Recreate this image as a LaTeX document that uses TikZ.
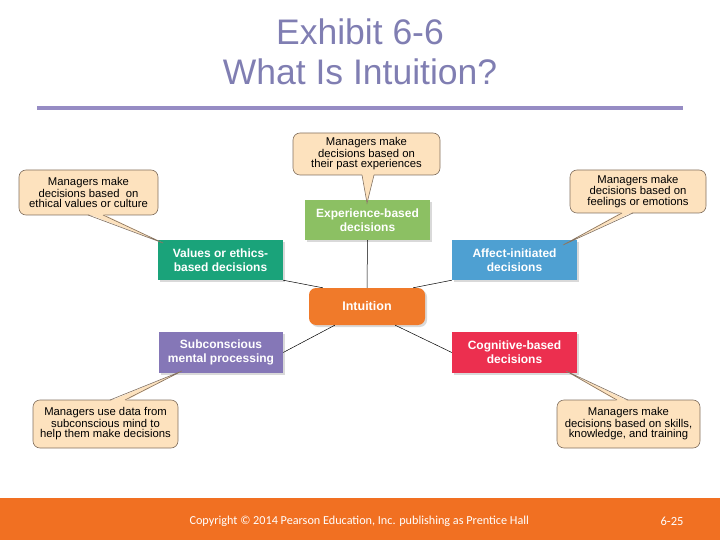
\documentclass[tikz,border=0pt]{standalone}
\usepackage{fontspec}
\setmainfont{Liberation Sans}
\newfontfamily\footfont{Carlito}
\usetikzlibrary{shadows}
\definecolor{titlecol}{RGB}{128,126,178}
\definecolor{rulecol}{RGB}{150,140,196}
\definecolor{calfill}{RGB}{253,226,190}
\definecolor{caldraw}{RGB}{130,112,95}
\definecolor{expgreen}{RGB}{140,192,99}
\definecolor{valteal}{RGB}{26,163,122}
\definecolor{affblue}{RGB}{78,160,210}
\definecolor{intorange}{RGB}{240,122,42}
\definecolor{subpurple}{RGB}{133,119,183}
\definecolor{cogred}{RGB}{236,47,79}
\definecolor{footorange}{RGB}{241,112,34}
\tikzset{
  callout/.style={draw=caldraw, line width=0.6pt, fill=calfill, rounded corners=7pt,
    align=center, font=\fontsize{11.3}{10.5}\selectfont, inner sep=0pt},
  catbox/.style={fill=#1, text=white, align=center, inner sep=0pt,
    font=\fontsize{12}{14}\selectfont\bfseries,
    drop shadow={opacity=0.3, shadow xshift=2pt, shadow yshift=-2pt}},
  link/.style={draw=black, line width=0.5pt},
  ptrfill/.style={fill=calfill},
  ptrline/.style={draw=caldraw, line width=0.6pt},
}
\begin{document}
\begin{tikzpicture}[x=1pt,y=-1pt]
\useasboundingbox (0,0) rectangle (720,540);
% title
\node[text=titlecol, font=\fontsize{35.5}{40}\selectfont, align=center] (title) at (360,52) {Exhibit 6-6\\What Is Intuition?};
\draw[rulecol, line width=3.5pt] (37,108) -- (683,108);

% category boxes
\node[catbox=expgreen, minimum width=125pt, minimum height=40pt] (exp) at (367.5,220) {Experience-based\\decisions};
\node[catbox=valteal, minimum width=125pt, minimum height=40pt] (val) at (220.5,260) {Values or ethics-\\based decisions};
\node[catbox=affblue, minimum width=125pt, minimum height=40pt] (aff) at (514.5,260) {Affect-initiated\\decisions};
\node[catbox=intorange, rounded corners=7pt, minimum width=116pt, minimum height=37pt, font=\fontsize{12.5}{14}\selectfont\bfseries] (int) at (367,306.5) {Intuition};
\node[catbox=subpurple, minimum width=124pt, minimum height=41pt] (sub) at (221,352.5) {Subconscious\\mental processing};
\node[catbox=cogred, minimum width=125pt, minimum height=41pt] (cog) at (514.5,352.5) {Cognitive-based\\decisions};

% connectors
\draw[link] (int.north) -- (exp.south);
\draw[link] (int.north west) ++(14,0) coordinate (iv) -- (val.south east);
\draw[link] (int.north east) ++(-12,0) coordinate (ia) -- (aff.south west);
\draw[link] (int.south west) ++(26,0) coordinate (is) -- (sub.east);
\draw[link] (int.south east) ++(-30,0) coordinate (ic) -- (cog.west);

% callouts
\node[callout, minimum width=147pt, minimum height=42pt] (cexp) at (366.5,154) {Managers make\\decisions based on\\their past experiences};
\node[callout, minimum width=139pt, minimum height=45pt] (cval) at (88.5,192.5) {Managers make\\decisions based\ \ on\\ethical values or culture};
\node[callout, minimum width=136pt, minimum height=43pt] (caff) at (638,191.5) {Managers make\\decisions based on\\feelings or emotions};
\node[callout, minimum width=145pt, minimum height=48pt] (csub) at (105.5,424) {Managers use data from\\subconscious mind to\\help them make decisions};
\node[callout, minimum width=143pt, minimum height=48pt] (ccog) at (628.5,424) {Managers make\\decisions based on skills,\\knowledge, and training};

% pointer tips
\coordinate (texp) at (367,203);
\coordinate (tval) at (163,243);
\coordinate (taff) at (563,245);
\coordinate (tsub) at (182,371);
\coordinate (tcog) at (566,371);

% pointers
\fill[ptrfill] (362,174) -- (texp) -- (374,174) -- cycle;
\draw[ptrline] (362,175) -- (texp) -- (374,175);
\fill[ptrfill] (88,214) -- (tval) -- (103,214) -- cycle;
\draw[ptrline] (88,215) -- (tval) -- (103,215);
\fill[ptrfill] (622,212) -- (taff) -- (633,212) -- cycle;
\draw[ptrline] (622,213) -- (taff) -- (633,213);
\fill[ptrfill] (110,401) -- (tsub) -- (125,401) -- cycle;
\draw[ptrline] (110,400) -- (tsub) -- (125,400);
\fill[ptrfill] (617,401) -- (tcog) -- (628,401) -- cycle;
\draw[ptrline] (617,400) -- (tcog) -- (628,400);

% footer
\fill[footorange] (0,498) rectangle (720,540);
\node[text=white, font=\footfont\fontsize{12.2}{14}\selectfont, anchor=west] (copy) at (186,521) {Copyright \textcopyright{} 2014 Pearson Education, Inc. publishing as Prentice Hall};
\node[text=white, font=\footfont\fontsize{12.5}{14}\selectfont] (page) at (672,521) {6-25};
\end{tikzpicture}
\end{document}
